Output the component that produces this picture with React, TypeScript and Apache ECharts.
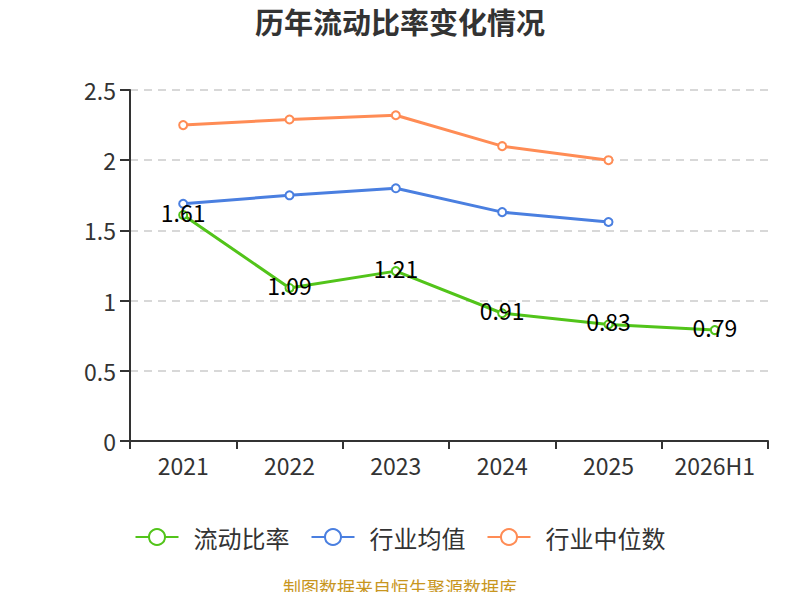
import { useEffect, useRef } from "react";
import * as echarts from "echarts";

const years = ["2021", "2022", "2023", "2024", "2025", "2026H1"];
const currentRatio = [1.61, 1.09, 1.21, 0.91, 0.83, 0.79];
const industryMean = [1.69, 1.75, 1.8, 1.63, 1.56];
const industryMedian = [2.25, 2.29, 2.32, 2.1, 2.0];

const FONT = "'Noto Sans CJK SC', 'Noto Sans', sans-serif";

export default function App() {
  const chartRef = useRef<HTMLDivElement>(null);

  useEffect(() => {
    if (!chartRef.current) return;
    const chart = echarts.init(chartRef.current, undefined, { renderer: "svg" });
    chart.setOption({
      animation: false,
      backgroundColor: "#fff",
      textStyle: { fontFamily: FONT },
      title: {
        text: "历年流动比率变化情况",
        left: "center",
        top: 1,
        textStyle: { fontSize: 29, fontWeight: "bold", color: "#333", fontFamily: FONT },
      },
      grid: { left: 130, right: 32, top: 90, bottom: 159 },
      legend: {
        bottom: 46,
        left: "center",
        itemWidth: 43,
        itemHeight: 20,
        itemGap: 21,
        textStyle: { fontSize: 24, color: "#333", fontFamily: FONT, padding: [0, 0, 0, 10] },
        data: ["流动比率", "行业均值", "行业中位数"],
      },
      graphic: [
        {
          type: "text",
          left: "center",
          bottom: 4,
          style: {
            text: "制图数据来自恒生聚源数据库",
            fontSize: 18,
            fill: "#c8961e",
            fontFamily: FONT,
          },
        },
      ],
      xAxis: {
        type: "category",
        data: years,
        boundaryGap: true,
        axisLine: { lineStyle: { color: "#333", width: 2 } },
        axisTick: { show: true, length: 8, lineStyle: { color: "#333", width: 2 } },
        axisLabel: { fontSize: 23, color: "#333", margin: 12, fontFamily: FONT },
      },
      yAxis: {
        type: "value",
        min: 0,
        max: 2.5,
        interval: 0.5,
        axisLine: { show: true, lineStyle: { color: "#333", width: 2 } },
        axisTick: { show: true, length: 10, lineStyle: { color: "#333", width: 2 } },
        axisLabel: { fontSize: 23, color: "#333", margin: 14, fontFamily: FONT },
        splitLine: { lineStyle: { color: "#ccc", type: [8, 6], width: 1.5 } },
      },
      series: [
        {
          name: "流动比率",
          type: "line",
          data: currentRatio,
          symbol: "emptyCircle",
          symbolSize: 8,
          color: "#52c41a",
          lineStyle: { width: 3 },
          label: {
            show: true,
            position: "inside",
            offset: [0, -3],
            fontSize: 23,
            color: "#000",
            fontFamily: FONT,
          },
          z: 3,
        },
        {
          name: "行业均值",
          type: "line",
          data: industryMean,
          symbol: "emptyCircle",
          symbolSize: 8,
          color: "#4a7fe0",
          lineStyle: { width: 3 },
        },
        {
          name: "行业中位数",
          type: "line",
          data: industryMedian,
          symbol: "emptyCircle",
          symbolSize: 8,
          color: "#ff8c55",
          lineStyle: { width: 3 },
        },
      ],
    });
    return () => chart.dispose();
  }, []);

  return <div ref={chartRef} style={{ width: 800, height: 600, margin: -8 }} />;
}
